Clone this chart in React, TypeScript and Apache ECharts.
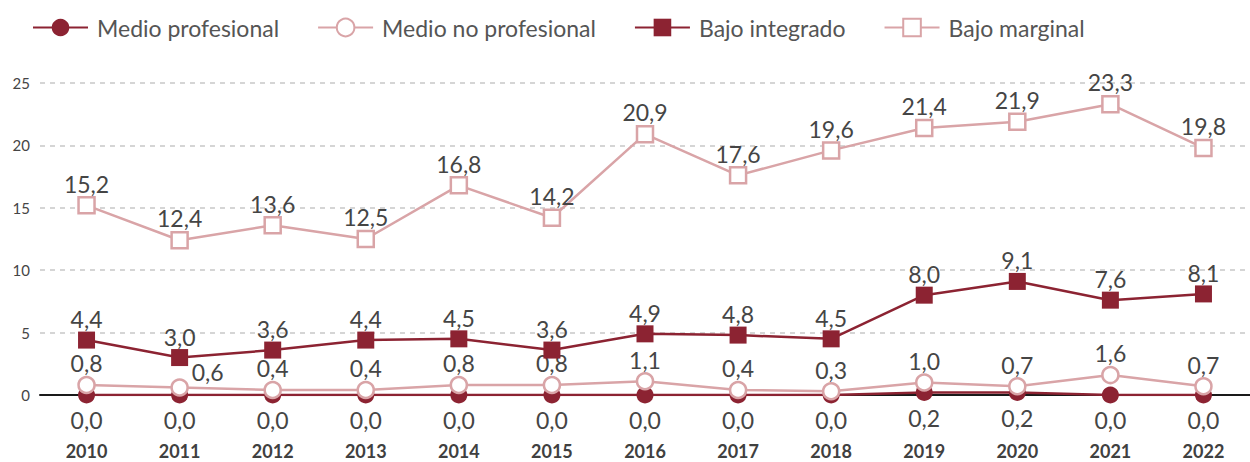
import React, { useEffect, useRef } from "react";
import * as echarts from "echarts";

const years = ["2010","2011","2012","2013","2014","2015","2016","2017","2018","2019","2020","2021","2022"];
const medioProfesional = [0, 0, 0, 0, 0, 0, 0, 0, 0, 0.2, 0.2, 0, 0];
const medioNoProfesional = [0.8, 0.6, 0.4, 0.4, 0.8, 0.8, 1.1, 0.4, 0.3, 1.0, 0.7, 1.6, 0.7];
const bajoIntegrado = [4.4, 3.0, 3.6, 4.4, 4.5, 3.6, 4.9, 4.8, 4.5, 8.0, 9.1, 7.6, 8.1];
const bajoMarginal = [15.2, 12.4, 13.6, 12.5, 16.8, 14.2, 20.9, 17.6, 19.6, 21.4, 21.9, 23.3, 19.8];
const yTicks = [0, 5, 10, 15, 20, 25];

const DARK = "#8C2332";
const PINK = "#D9A4A7";
const TEXT = "#454545";
const FONT = "Lato";

const fmt = (p: any) => Number(p.value).toFixed(1).replace(".", ",");

export default function App() {
  const ref = useRef<HTMLDivElement>(null);
  useEffect(() => {
    const chart = echarts.init(ref.current!, undefined, { renderer: "svg" });
    const labelBase = { show: true, formatter: fmt, color: TEXT, fontSize: 23, fontFamily: FONT };
    chart.setOption({
      animation: false,
      textStyle: { fontFamily: FONT },
      legend: {
        left: 27,
        top: 11,
        itemWidth: 55,
        itemHeight: 22,
        itemGap: 38,
        textStyle: { color: "#555555", fontSize: 23, fontFamily: FONT, padding: [0, 0, 0, 4] },
        data: ["Medio profesional", "Medio no profesional", "Bajo integrado", "Bajo marginal"],
      },
      grid: { left: 40, right: -10, top: 83, bottom: 67 },
      xAxis: {
        type: "category",
        data: years,
        boundaryGap: true,
        axisLine: { show: true, lineStyle: { color: "#1a1a1a", width: 2 } },
        axisTick: { show: false },
        axisLabel: { color: "#404040", fontSize: 18, fontWeight: "bold", fontFamily: FONT, margin: 47 },
      },
      yAxis: {
        type: "value",
        min: yTicks[0],
        max: yTicks[yTicks.length - 1],
        interval: 5,
        axisLine: { show: false },
        axisTick: { show: false },
        axisLabel: { color: TEXT, fontSize: 15, fontFamily: FONT, margin: 10, align: "right" },
        splitLine: { show: true, lineStyle: { color: "#c8c8c8", type: [5, 5], width: 1.5 } },
      },
      series: [
        {
          name: "Medio profesional",
          type: "line",
          data: medioProfesional,
          symbol: "circle",
          symbolSize: 17,
          color: DARK,
          lineStyle: { color: DARK, width: 2.5 },
          itemStyle: { color: DARK },
          label: { ...labelBase, position: "bottom", distance: 5 },
          z: 2,
        },
        {
          name: "Medio no profesional",
          type: "line",
          data: medioNoProfesional.map((v, i) =>
            i === 1 ? { value: v, label: { offset: [28, 6] } } : v
          ),
          symbol: "circle",
          symbolSize: 16,
          color: PINK,
          lineStyle: { color: PINK, width: 2.5 },
          itemStyle: { color: "#ffffff", borderColor: PINK, borderWidth: 2.5 },
          label: { ...labelBase, position: "top", distance: 1 },
          z: 3,
        },
        {
          name: "Bajo integrado",
          type: "line",
          data: bajoIntegrado,
          symbol: "rect",
          symbolSize: 17,
          color: DARK,
          lineStyle: { color: DARK, width: 2.5 },
          itemStyle: { color: DARK },
          label: { ...labelBase, position: "top", distance: 1 },
          z: 4,
        },
        {
          name: "Bajo marginal",
          type: "line",
          data: bajoMarginal,
          symbol: "rect",
          symbolSize: 16,
          color: PINK,
          lineStyle: { color: PINK, width: 2.5 },
          itemStyle: { color: "#ffffff", borderColor: PINK, borderWidth: 2.5 },
          label: { ...labelBase, position: "top", distance: 1 },
          z: 5,
        },
      ],
    });
    return () => chart.dispose();
  }, []);
  return <div ref={ref} style={{ width: 1250, height: 462, position: "absolute", left: 0, top: 0 }} />;
}
